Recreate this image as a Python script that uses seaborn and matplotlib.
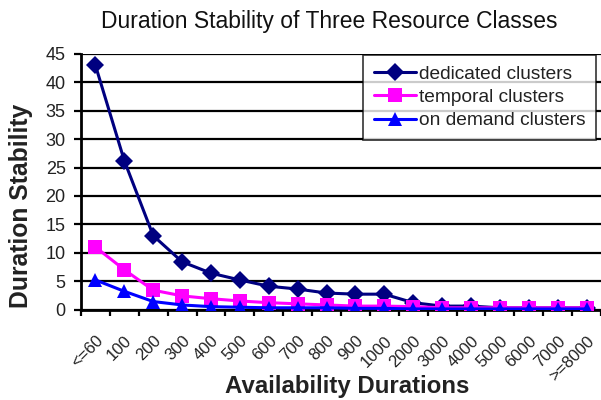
import matplotlib
matplotlib.use("Agg")
import matplotlib.pyplot as plt
import seaborn as sns
import pandas as pd
import numpy as np

# Availability duration buckets
durations = ["<=60", "100", "200", "300", "400", "500", "600", "700", "800",
             "900", "1000", "2000", "3000", "4000", "5000", "6000", "7000", ">=8000"]

# Duration stability per resource class
dedicated = [43.0, 26.2, 13.0, 8.4, 6.4, 5.2, 4.1, 3.6, 2.9, 2.7, 2.7, 1.2, 0.6, 0.6, 0.3, 0.3, 0.3, 0.3]
temporal = [11.0, 7.0, 3.4, 2.4, 1.9, 1.5, 1.2, 1.0, 0.8, 0.6, 0.6, 0.5, 0.3, 0.3, 0.3, 0.3, 0.3, 0.3]
on_demand = [5.2, 3.2, 1.4, 0.8, 0.5, 0.4, 0.3, 0.3, 0.3, 0.2, 0.2, 0.1, 0.1, 0.1, 0.1, 0.1, 0.1, 0.1]

series_names = ["dedicated clusters", "temporal clusters", "on demand clusters"]

df = pd.DataFrame({
    "pos": list(range(len(durations))) * 3,
    "value": dedicated + temporal + on_demand,
    "series": np.repeat(series_names, len(durations)),
})

sns.set_theme(style="white")
plt.rcParams["font.family"] = ["Liberation Sans", "DejaVu Sans"]

W, H = 601, 400
fig = plt.figure(figsize=(W / 100, H / 100), dpi=100)
ax_left, ax_bottom, ax_top = 81, 309.5, 54.0
ax = fig.add_axes([ax_left / W, (H - ax_bottom) / H, (W - ax_left) / W,
                   (ax_bottom - ax_top) / H])
ax_h = ax_bottom - ax_top
ax_w = W - ax_left

palette = {"dedicated clusters": "#000080",
           "temporal clusters": "#FF00FF",
           "on demand clusters": "#0000FF"}
markers = {"dedicated clusters": "D",
           "temporal clusters": "s",
           "on demand clusters": "^"}

sns.lineplot(data=df, x="pos", y="value", hue="series", style="series",
             palette=palette, markers=markers, dashes=False, linewidth=2.2,
             markersize=9.5, markeredgewidth=0, ax=ax, zorder=3)

ax.set_xlim(-0.45, 17.39)
ax.set_ylim(0, 45)
ax.set_yticks(range(0, 46, 5))
ax.yaxis.grid(True, color="black", linewidth=1.6)
ax.set_axisbelow(True)

ax.set_xticks(range(len(durations)))
ax.set_xticklabels(durations, rotation=45, ha="right", rotation_mode="anchor",
                   fontsize=12, color="#222222")
ax.set_xticks(np.arange(-0.5, len(durations), 1.0), minor=True)
ax.tick_params(axis="x", which="major", length=0, pad=17)
ax.tick_params(axis="x", which="minor", length=4, width=1.6, color="black",
               direction="out", bottom=True)
ax.tick_params(axis="y", length=5, width=1.6, color="black", direction="out",
               left=True, labelsize=13, labelcolor="#222222", pad=6)

for side in ["top", "right"]:
    ax.spines[side].set_visible(False)
for side in ["left", "bottom"]:
    ax.spines[side].set_color("black")
    ax.spines[side].set_linewidth(2.0)

ax.set_xlabel("Availability Durations", fontsize=17.3, fontweight="bold",
              color="#222222")
ax.xaxis.label.set_va("bottom")
ax.xaxis.set_label_coords((347.5 - ax_left) / ax_w, (ax_bottom - 398) / ax_h)

ax.set_ylabel("Duration Stability", fontsize=17.8, fontweight="bold",
              color="#222222")
ax.yaxis.set_label_coords((33 - ax_left) / ax_w, (ax_bottom - 205.5) / ax_h)

fig.text(329 / W, (H - 28) / H, "Duration Stability of Three Resource Classes",
         fontsize=16.5, color="#111111", ha="center", va="baseline")

leg = ax.legend(loc="upper right",
                bbox_to_anchor=((596 - ax_left) / ax_w, (ax_bottom - 55) / ax_h),
                fontsize=13.8, frameon=True, fancybox=False, borderpad=0.55,
                labelspacing=0.3, handlelength=2.2, handletextpad=0.15,
                borderaxespad=0.0)
leg.get_frame().set_edgecolor("black")
leg.get_frame().set_linewidth(1.2)
for t in leg.get_texts():
    t.set_color("#222222")

fig.savefig("out.png", dpi=100)
